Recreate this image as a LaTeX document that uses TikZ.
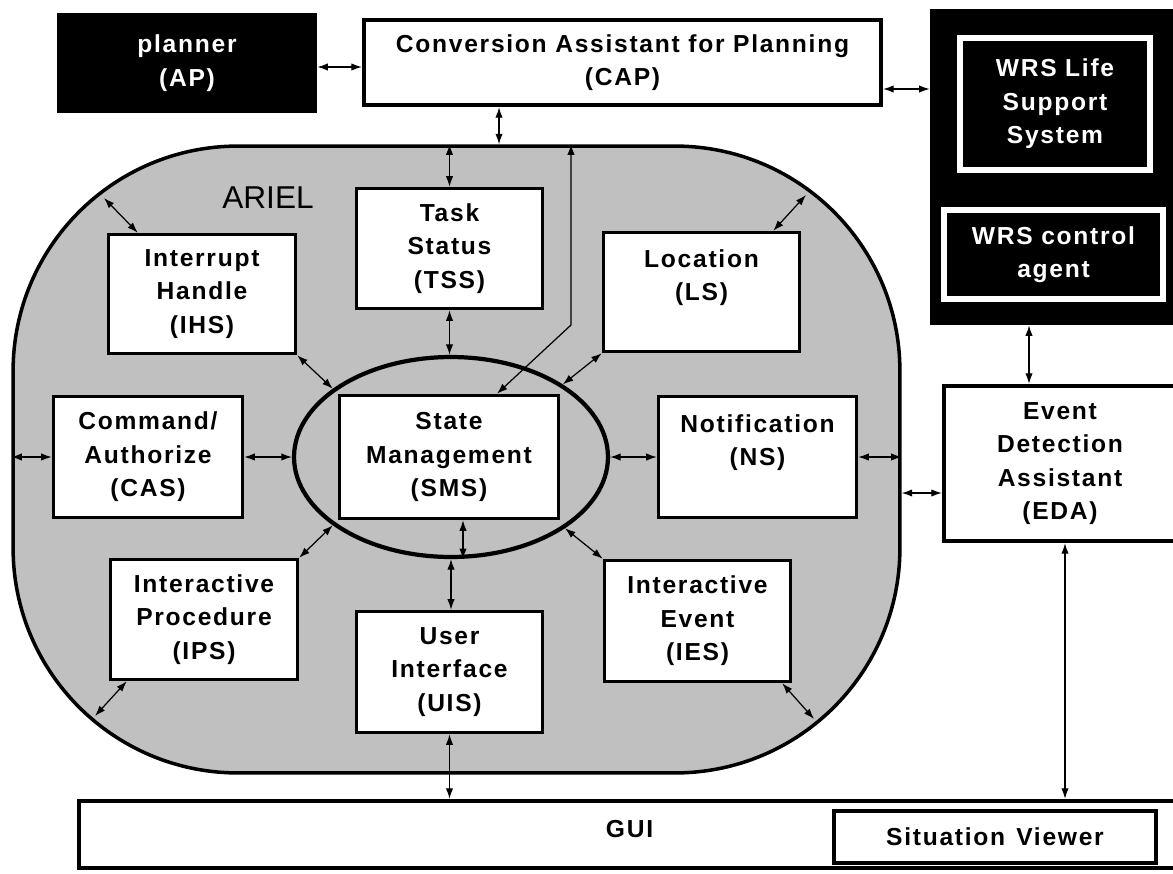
\documentclass[tikz,border=0pt]{standalone}
\usepackage{fontspec}
\usetikzlibrary{arrows.meta,shapes.geometric}
\newfontfamily\lblfam[LetterSpace=7]{Liberation Sans}
\newfontfamily\plainfam{Liberation Sans}
\newcommand\lbl{\lblfam\bfseries\fontsize{14pt}{19pt}\selectfont}
\definecolor{arielgray}{RGB}{192,192,192}
\begin{document}
\begin{tikzpicture}[x=0.02cm,y=-0.02cm,
  box/.style={draw, fill=white, line width=2pt, inner sep=0pt, align=center, font=\lbl},
  bbox/.style={box, line width=2.5pt},
  wbox/.style={draw=white, fill=black, text=white, line width=3.4pt, inner sep=0pt, align=center, font=\lbl},
  arr/.style={{Latex[length=6pt,width=4.2pt]}-{Latex[length=6pt,width=4.2pt]}, line width=0.7pt}]
\useasboundingbox (0,0) rectangle (1173,873);
\fill[white] (0,0) rectangle (1173,873);

% ARIEL region
\node[draw, fill=arielgray, line width=2pt, rounded corners=4.5cm, minimum width=17.74cm, minimum height=12.54cm, inner sep=0pt] (ariel) at (456.5,459.5) {};
\node[font=\plainfam\fontsize{18pt}{20pt}\selectfont, text=black] (ariellbl) at (268,198) {ARIEL};

% outside boxes
\node[fill=black, text=white, font=\lbl, align=center, minimum width=5.2cm, minimum height=2cm, inner sep=0pt] (ap) at (187,63) {planner\\(AP)};
\node[bbox, minimum width=10.34cm, minimum height=1.7cm] (cap) at (622.5,62.5) {Conversion Assistant for Planning\\(CAP)};
\node[fill=black, minimum width=5.1cm, minimum height=6.32cm, inner sep=0pt] (wrs) at (1057.5,167) {};
\node[wbox, minimum width=3.8cm, minimum height=2.64cm] (wrsls) at (1055,104) {WRS Life\\Support\\System};
\node[wbox, minimum width=4.38cm, minimum height=1.78cm] (wrsca) at (1053.5,254.5) {WRS control\\agent};
\node[bbox, minimum width=4.64cm, minimum height=3.1cm] (eda) at (1060,463.5) {Event\\Detection\\Assistant\\(EDA)};
\node[bbox, minimum width=22.02cm, minimum height=1.34cm, text depth=6pt] (gui) at (629.5,834.5) {GUI};
\node[bbox, minimum width=6.44cm, minimum height=1.04cm] (sv) at (995,837) {Situation\hspace{0.45em}Viewer};

% inner components
\node[ellipse, draw, line width=2.4pt, minimum width=6.28cm, minimum height=4.0cm, inner sep=0pt] (smsell) at (451,457) {};
\node[box, minimum width=4.38cm, minimum height=2.46cm] (smsbox) at (449,457) {State\\Management\\(SMS)};
\node[box, minimum width=3.72cm, minimum height=2.4cm] (tss) at (449.5,248.5) {Task\\Status\\(TSS)};
\node[box, minimum width=3.74cm, minimum height=2.38cm] (ihs) at (202,294) {Interrupt\\Handle\\(IHS)};
\node[box, minimum width=3.92cm, minimum height=2.38cm] (ls) at (701.5,292) {Location\\(LS)\\\mbox{}};
\node[box, minimum width=3.78cm, minimum height=2.42cm] (cas) at (148,457) {Command/\\Authorize\\(CAS)};
\node[box, minimum width=3.96cm, minimum height=2.42cm] (ns) at (757.5,457) {Notification\\(NS)\\\mbox{}};
\node[box, minimum width=3.74cm, minimum height=2.4cm] (ips) at (204,619.5) {Interactive\\Procedure\\(IPS)};
\node[box, minimum width=3.72cm, minimum height=2.42cm] (uis) at (449.5,672) {User\\Interface\\(UIS)};
\node[box, minimum width=3.72cm, minimum height=2.42cm] (ies) at (697.5,621) {Interactive\\Event\\(IES)};

% connectors outside
\coordinate (apE) at ([yshift=-0.08cm]ap.east);
\draw[arr] (apE) -- (apE -| cap.west);
\coordinate (capE) at ([yshift=-0.53cm]cap.east);
\draw[arr] (capE) -- (capE -| wrs.west);
\coordinate (capS) at ([xshift=-2.47cm]cap.south);
\draw[arr] (capS) -- (capS |- ariel.north);
\coordinate (wrsS) at ([xshift=-0.57cm]wrs.south);
\draw[arr] (wrsS) -- (wrsS |- eda.north);
\coordinate (aE) at ([yshift=-0.67cm]ariel.east);
\draw[arr] (aE) -- (aE -| eda.west);
\coordinate (edaS) at ([xshift=0.1cm]eda.south);
\draw[arr] (edaS) -- (edaS |- gui.north);
\draw[arr] (uis.south) -- (uis.south |- gui.north);

% connectors inside ARIEL
\draw[arr] (tss.north) -- (tss.north |- ariel.north);
\draw[arr] (tss.south) -- (tss.south |- smsell.north);
\coordinate (smsN) at ([xshift=0.96cm]smsbox.north);
\coordinate (bend) at (571,325);
\draw[arr] (smsN) -- (bend) -- (bend |- ariel.north);
\coordinate (smsS) at ([xshift=0.28cm]smsbox.south);
\draw[arr] (smsS) -- (smsS |- smsell.south);
\draw[arr] (smsell.south) -- (smsell.south |- uis.north);
\draw[arr] (cas.west) -- (cas.west -| ariel.west);
\draw[arr] (cas.east) -- (smsell.west);
\draw[arr] (smsell.east) -- (ns.west);
\draw[arr] (ns.east) -- (ns.east -| ariel.east);
\draw[arr] (ihs.south east) -- (smsell.150);
\draw[arr] (ls.south west) -- (smsell.33);
\draw[arr] (ips.north east) -- (smsell.210);
\draw[arr] (ies.north west) -- (smsell.328);
\coordinate (ihsN) at ([xshift=0.62cm]ihs.north west);
\coordinate (brdIHS) at (104,198);
\draw[arr] (ihsN) -- (brdIHS);
\coordinate (lsN) at ([xshift=-0.56cm]ls.north east);
\coordinate (brdLS) at (806,195);
\draw[arr] (lsN) -- (brdLS);
\coordinate (ipsS) at ([xshift=0.36cm]ips.south west);
\coordinate (brdIPS) at (95,716);
\draw[arr] (ipsS) -- (brdIPS);
\coordinate (iesS) at ([xshift=-0.2cm]ies.south east);
\coordinate (brdIES) at (814,719);
\draw[arr] (iesS) -- (brdIES);
\end{tikzpicture}
\end{document}
